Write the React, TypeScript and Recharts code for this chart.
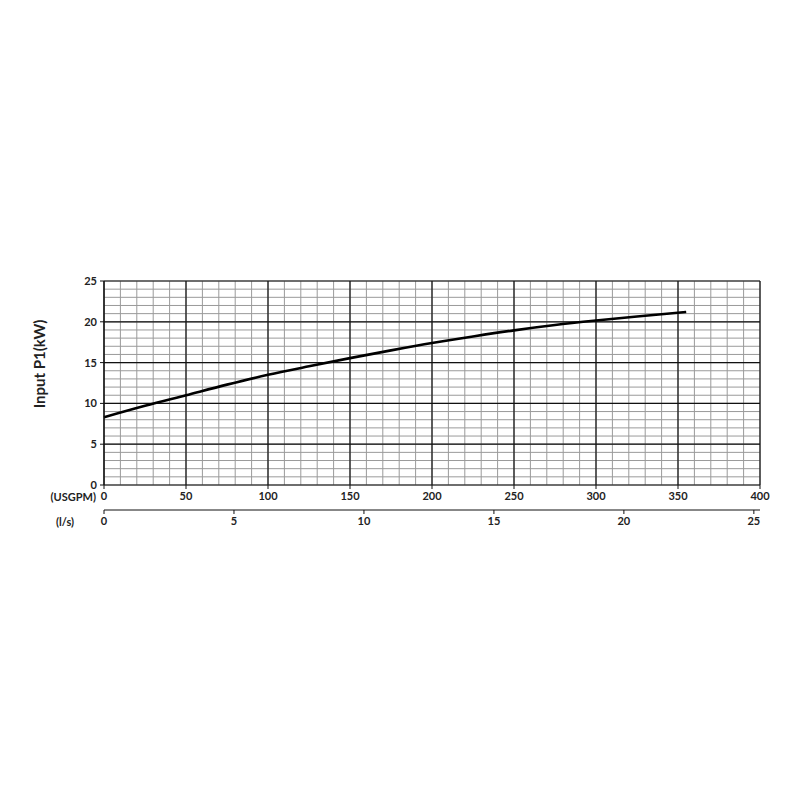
import React from 'react';
import { LineChart, Line, XAxis, YAxis, CartesianGrid, Label } from 'recharts';

// pump input power curve, flow in USGPM
const flowUsgpm = [0, 25, 50, 75, 100, 125, 150, 175, 200, 225, 250, 275, 300, 325, 355];
const powerKw = [8.3, 9.7, 11.0, 12.3, 13.5, 14.55, 15.55, 16.5, 17.4, 18.2, 18.95, 19.6, 20.15, 20.65, 21.2];

const usgpmTicks = [0, 50, 100, 150, 200, 250, 300, 350, 400];
const lsTicks = [0, 5, 10, 15, 20, 25];
const kwTicks = [0, 5, 10, 15, 20, 25];

const USGPM_PER_LS = 15.85;
const minorX = Array.from({ length: 41 }, (_, i) => i * 10);
const minorY = Array.from({ length: 26 }, (_, i) => i);

const data = flowUsgpm.map((q, i) => ({ q, ls: q / USGPM_PER_LS, p: powerKw[i] }));

const font = { fontFamily: 'Lato, "Open Sans", sans-serif', fontWeight: 700, fontSize: 11, fill: '#222' };

const App: React.FC = () => {
  return (
    <div style={{ width: 784, height: 784, background: '#fff' }}>
      <LineChart width={784} height={784} data={data} margin={{ top: 273, right: 32, bottom: 258, left: 0 }}>
        {/* hidden axes only for the fine grid */}
        <XAxis xAxisId="minor" dataKey="q" type="number" domain={[0, 400]} ticks={minorX} interval={0} hide />
        <YAxis yAxisId="minor" dataKey="p" type="number" domain={[0, 25]} ticks={minorY} interval={0} hide />
        <CartesianGrid xAxisId="minor" yAxisId="minor" stroke="#9a9a9a" strokeWidth={1} />
        <CartesianGrid stroke="#111" strokeWidth={1.2} />

        <XAxis
          dataKey="q"
          type="number"
          domain={[0, 400]}
          ticks={usgpmTicks}
          interval={0}
          height={25}
          axisLine={false}
          tickLine={{ stroke: '#111' }}
          tickSize={4}
          tickMargin={3}
          tick={font}
        >
          <Label value="(USGPM)" position="left" offset={8} style={font} />
        </XAxis>
        <XAxis
          xAxisId="ls"
          dataKey="ls"
          type="number"
          domain={[0, 400 / USGPM_PER_LS]}
          allowDataOverflow
          ticks={lsTicks}
          interval={0}
          height={24}
          axisLine={{ stroke: '#111' }}
          tickLine={{ stroke: '#111' }}
          tickSize={4}
          tickMargin={3}
          tick={font}
        >
          <Label value="(l/s)" position="left" offset={30} style={font} />
        </XAxis>
        <YAxis
          type="number"
          domain={[0, 25]}
          ticks={kwTicks}
          interval={0}
          width={96}
          axisLine={{ stroke: '#111' }}
          tickLine={{ stroke: '#111' }}
          tickSize={4}
          tickMargin={3}
          tick={font}
        >
          <Label
            value="Input P1(kW)"
            angle={-90}
            position="insideLeft"
            offset={32}
            dy={-19}
            style={{ ...font, fontSize: 15, textAnchor: 'middle' }}
          />
        </YAxis>

        <Line
          type="monotone"
          dataKey="p"
          stroke="#000"
          strokeWidth={2.6}
          dot={false}
          isAnimationActive={false}
        />
      </LineChart>
    </div>
  );
};

export default App;
